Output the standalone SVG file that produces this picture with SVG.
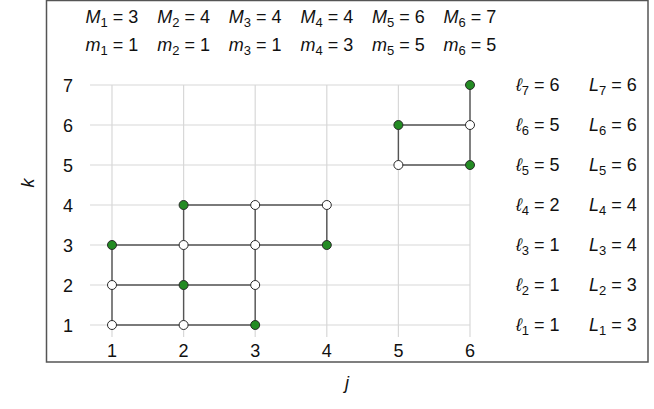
<svg xmlns="http://www.w3.org/2000/svg" width="654" height="409" viewBox="0 0 654 409">
<style>
text{font-family:"Liberation Sans",Arial,sans-serif;font-size:18px;fill:#111}
.v{font-style:italic}
.s{font-size:13px}
.t{text-anchor:middle}
.grid line{stroke:#d8d8d8;stroke-width:1.2}
.edges line{stroke:#555;stroke-width:1.4}
.g{fill:#238b23;stroke:#2a2a2a;stroke-width:1}
.w{fill:#fff;stroke:#2a2a2a;stroke-width:1}
</style>
<rect x="46.5" y="0.5" width="601.5" height="361.5" fill="#fff" stroke="#555" stroke-width="1.5"/>
<g class="grid">
<line x1="90" y1="325" x2="470" y2="325"/><line x1="90" y1="285" x2="470" y2="285"/><line x1="90" y1="245" x2="470" y2="245"/><line x1="90" y1="205" x2="470" y2="205"/><line x1="90" y1="165" x2="470" y2="165"/><line x1="90" y1="125" x2="470" y2="125"/><line x1="90" y1="85" x2="470" y2="85"/>
<line x1="112" y1="85" x2="112" y2="337"/><line x1="183.6" y1="85" x2="183.6" y2="337"/><line x1="255.2" y1="85" x2="255.2" y2="337"/><line x1="326.8" y1="85" x2="326.8" y2="337"/><line x1="398.4" y1="85" x2="398.4" y2="337"/><line x1="470" y1="85" x2="470" y2="337"/>
</g>
<g id="ticks">
<text class="t" x="112" y="357">1</text><text class="t" x="183.6" y="357">2</text><text class="t" x="255.2" y="357">3</text><text class="t" x="326.8" y="357">4</text><text class="t" x="398.4" y="357">5</text><text class="t" x="470" y="357">6</text>
<text class="t" x="68" y="331.5">1</text><text class="t" x="68" y="291.5">2</text><text class="t" x="68" y="251.5">3</text><text class="t" x="68" y="211.5">4</text><text class="t" x="68" y="171.5">5</text><text class="t" x="68" y="131.5">6</text><text class="t" x="68" y="91.5">7</text>
</g>
<text class="v t" x="347" y="389">j</text>
<text class="v t" transform="translate(34,183) rotate(-90)">k</text>
<g id="top-labels">
<text class="t" x="112" y="23"><tspan class="v">M</tspan><tspan class="s" dy="4">1</tspan><tspan dy="-4"> = 3</tspan></text>
<text class="t" x="183.6" y="23"><tspan class="v">M</tspan><tspan class="s" dy="4">2</tspan><tspan dy="-4"> = 4</tspan></text>
<text class="t" x="255.2" y="23"><tspan class="v">M</tspan><tspan class="s" dy="4">3</tspan><tspan dy="-4"> = 4</tspan></text>
<text class="t" x="326.8" y="23"><tspan class="v">M</tspan><tspan class="s" dy="4">4</tspan><tspan dy="-4"> = 4</tspan></text>
<text class="t" x="398.4" y="23"><tspan class="v">M</tspan><tspan class="s" dy="4">5</tspan><tspan dy="-4"> = 6</tspan></text>
<text class="t" x="470" y="23"><tspan class="v">M</tspan><tspan class="s" dy="4">6</tspan><tspan dy="-4"> = 7</tspan></text>
<text class="t" x="112" y="51"><tspan class="v">m</tspan><tspan class="s" dy="4">1</tspan><tspan dy="-4"> = 1</tspan></text>
<text class="t" x="183.6" y="51"><tspan class="v">m</tspan><tspan class="s" dy="4">2</tspan><tspan dy="-4"> = 1</tspan></text>
<text class="t" x="255.2" y="51"><tspan class="v">m</tspan><tspan class="s" dy="4">3</tspan><tspan dy="-4"> = 1</tspan></text>
<text class="t" x="326.8" y="51"><tspan class="v">m</tspan><tspan class="s" dy="4">4</tspan><tspan dy="-4"> = 3</tspan></text>
<text class="t" x="398.4" y="51"><tspan class="v">m</tspan><tspan class="s" dy="4">5</tspan><tspan dy="-4"> = 5</tspan></text>
<text class="t" x="470" y="51"><tspan class="v">m</tspan><tspan class="s" dy="4">6</tspan><tspan dy="-4"> = 5</tspan></text>
</g>
<g id="right-labels">
<text x="516" y="91"><tspan class="v">ℓ</tspan><tspan class="s" dy="4">7</tspan><tspan dy="-4"> = 6</tspan></text>
<text x="516" y="131"><tspan class="v">ℓ</tspan><tspan class="s" dy="4">6</tspan><tspan dy="-4"> = 5</tspan></text>
<text x="516" y="171"><tspan class="v">ℓ</tspan><tspan class="s" dy="4">5</tspan><tspan dy="-4"> = 5</tspan></text>
<text x="516" y="211"><tspan class="v">ℓ</tspan><tspan class="s" dy="4">4</tspan><tspan dy="-4"> = 2</tspan></text>
<text x="516" y="251"><tspan class="v">ℓ</tspan><tspan class="s" dy="4">3</tspan><tspan dy="-4"> = 1</tspan></text>
<text x="516" y="291"><tspan class="v">ℓ</tspan><tspan class="s" dy="4">2</tspan><tspan dy="-4"> = 1</tspan></text>
<text x="516" y="331"><tspan class="v">ℓ</tspan><tspan class="s" dy="4">1</tspan><tspan dy="-4"> = 1</tspan></text>
<text x="589" y="91"><tspan class="v">L</tspan><tspan class="s" dy="4">7</tspan><tspan dy="-4"> = 6</tspan></text>
<text x="589" y="131"><tspan class="v">L</tspan><tspan class="s" dy="4">6</tspan><tspan dy="-4"> = 6</tspan></text>
<text x="589" y="171"><tspan class="v">L</tspan><tspan class="s" dy="4">5</tspan><tspan dy="-4"> = 6</tspan></text>
<text x="589" y="211"><tspan class="v">L</tspan><tspan class="s" dy="4">4</tspan><tspan dy="-4"> = 4</tspan></text>
<text x="589" y="251"><tspan class="v">L</tspan><tspan class="s" dy="4">3</tspan><tspan dy="-4"> = 4</tspan></text>
<text x="589" y="291"><tspan class="v">L</tspan><tspan class="s" dy="4">2</tspan><tspan dy="-4"> = 3</tspan></text>
<text x="589" y="331"><tspan class="v">L</tspan><tspan class="s" dy="4">1</tspan><tspan dy="-4"> = 3</tspan></text>
</g>
<g class="edges" id="connectors">
<line x1="112" y1="325" x2="255.2" y2="325"/>
<line x1="112" y1="285" x2="255.2" y2="285"/>
<line x1="112" y1="245" x2="326.8" y2="245"/>
<line x1="183.6" y1="205" x2="326.8" y2="205"/>
<line x1="398.4" y1="165" x2="470" y2="165"/>
<line x1="398.4" y1="125" x2="470" y2="125"/>
<line x1="112" y1="325" x2="112" y2="245"/>
<line x1="183.6" y1="325" x2="183.6" y2="205"/>
<line x1="255.2" y1="325" x2="255.2" y2="205"/>
<line x1="326.8" y1="245" x2="326.8" y2="205"/>
<line x1="398.4" y1="165" x2="398.4" y2="125"/>
<line x1="470" y1="165" x2="470" y2="85"/>
</g>
<g id="n11"><circle class="w" cx="112" cy="325" r="4.5"/></g>
<g id="n12"><circle class="w" cx="112" cy="285" r="4.5"/></g>
<g id="n13"><circle class="g" cx="112" cy="245" r="4.5"/></g>
<g id="n21"><circle class="w" cx="183.6" cy="325" r="4.5"/></g>
<g id="n22"><circle class="g" cx="183.6" cy="285" r="4.5"/></g>
<g id="n23"><circle class="w" cx="183.6" cy="245" r="4.5"/></g>
<g id="n24"><circle class="g" cx="183.6" cy="205" r="4.5"/></g>
<g id="n31"><circle class="g" cx="255.2" cy="325" r="4.5"/></g>
<g id="n32"><circle class="w" cx="255.2" cy="285" r="4.5"/></g>
<g id="n33"><circle class="w" cx="255.2" cy="245" r="4.5"/></g>
<g id="n34"><circle class="w" cx="255.2" cy="205" r="4.5"/></g>
<g id="n43"><circle class="g" cx="326.8" cy="245" r="4.5"/></g>
<g id="n44"><circle class="w" cx="326.8" cy="205" r="4.5"/></g>
<g id="n55"><circle class="w" cx="398.4" cy="165" r="4.5"/></g>
<g id="n56"><circle class="g" cx="398.4" cy="125" r="4.5"/></g>
<g id="n65"><circle class="g" cx="470" cy="165" r="4.5"/></g>
<g id="n66"><circle class="w" cx="470" cy="125" r="4.5"/></g>
<g id="n67"><circle class="g" cx="470" cy="85" r="4.5"/></g>
</svg>
